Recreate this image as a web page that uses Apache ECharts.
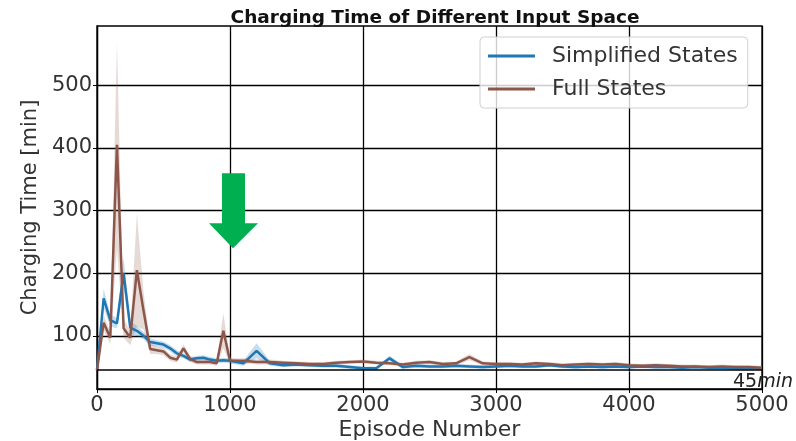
<!DOCTYPE html>
<html>
<head>
<meta charset="utf-8">
<script src="https://cdn.jsdelivr.net/npm/echarts@6/dist/echarts.min.js"></script>
<style>
  html, body { margin: 0; padding: 0; background: #fff; }
  #main { width: 796px; height: 441px; }
</style>
</head>
<body>
<div id="main"></div>
<script>
// episode grid shared by both curves
var episodes = [0, 50, 100, 150, 200, 250, 300, 350, 400, 450, 500, 550, 600, 650, 700, 750, 800, 850, 900, 950, 1000,
  1100, 1200, 1300, 1400, 1500, 1600, 1700, 1800, 1900, 2000, 2100, 2200, 2300, 2400, 2500, 2600, 2700, 2800, 2900, 3000,
  3100, 3200, 3300, 3400, 3500, 3600, 3700, 3800, 3900, 4000, 4100, 4200, 4300, 4400, 4500, 4600, 4700, 4800, 4900, 5000];

var simplified = [45, 160, 125, 120, 200, 113, 108, 100, 90, 88, 86, 80, 72, 68, 62, 64, 65, 62, 60, 61, 60,
  56, 76, 56, 53, 54, 53, 52, 52, 50, 48, 48, 64, 50, 52, 51, 51, 52, 51, 50, 51,
  52, 51, 51, 53, 51, 50, 51, 50, 51, 50, 51, 50, 50, 49, 50, 49, 49, 48, 48, 48];
var simplifiedSpread = [3, 15, 10, 8, 25, 10, 8, 6, 6, 5, 5, 5, 5, 4, 4, 4, 4, 4, 4, 4, 4,
  4, 12, 4, 3, 3, 3, 3, 3, 3, 3, 3, 4, 3, 3, 3, 3, 3, 3, 3, 3,
  3, 3, 3, 3, 3, 3, 3, 3, 3, 3, 3, 3, 3, 3, 3, 3, 3, 3, 3, 3];

var full = [45, 121, 97, 405, 112, 97, 205, 140, 79, 77, 75, 65, 62, 80, 63, 58, 58, 58, 56, 108, 60,
  60, 58, 58, 57, 56, 55, 55, 57, 58, 59, 57, 56, 54, 57, 58, 55, 56, 66, 56, 55,
  55, 54, 56, 55, 53, 54, 55, 54, 55, 53, 52, 53, 52, 51, 51, 50, 51, 50, 50, 49];
var fullSpread = [3, 12, 10, 165, 15, 12, 90, 30, 8, 6, 6, 5, 5, 6, 5, 4, 4, 4, 4, 28, 4,
  4, 4, 4, 3, 3, 3, 3, 3, 3, 3, 3, 3, 3, 3, 3, 3, 3, 5, 3, 3,
  3, 3, 3, 3, 3, 3, 3, 3, 3, 3, 3, 3, 3, 3, 3, 3, 3, 3, 3, 3];

var yTicks = [100, 200, 300, 400, 500];
var targetMinutes = 45;
// white dashed pieces lying on the 45 min line
var dashPieces = [[340, 650], [1020, 1300], [1680, 1980], [2420, 2740], [3460, 3700], [3900, 4250], [4450, 4800]];

var chartDom = document.getElementById('main');
var myChart = echarts.init(chartDom);
var font = 'DejaVu Sans';

function pairs(ys) {
  return episodes.map(function (e, i) { return [e, ys[i]]; });
}

function band(ys, spread, fill) {
  return {
    type: 'custom',
    silent: true,
    z: 1,
    data: pairs(ys),
    renderItem: function (params, api) {
      if (params.dataIndex !== 0) return null;
      var pts = [];
      for (var i = 0; i < episodes.length; i++) pts.push(api.coord([episodes[i], ys[i] + spread[i]]));
      for (var j = episodes.length - 1; j >= 0; j--) pts.push(api.coord([episodes[j], ys[j] - spread[j]]));
      return { type: 'polygon', shape: { points: pts }, style: { fill: fill } };
    }
  };
}

var option = {
  animation: false,
  backgroundColor: '#fff',
  title: {
    text: 'Charging Time of Different Input Space',
    left: 430,
    textAlign: 'center',
    top: 4,
    textStyle: { fontFamily: font, fontWeight: 'bold', fontSize: 18.5, color: '#111' }
  },
  legend: {
    orient: 'vertical',
    left: 480,
    top: 37,
    padding: [7, 10, 7, 8],
    icon: 'rect',
    itemWidth: 47,
    itemHeight: 3,
    itemGap: 9,
    backgroundColor: 'rgba(255,255,255,0.8)',
    borderColor: '#d0d0d0',
    borderWidth: 1,
    borderRadius: 4,
    data: ['Simplified States', 'Full States'],
    textStyle: { fontFamily: font, fontSize: 22, lineHeight: 24, color: '#333', padding: [0, 0, 0, 12] }
  },
  grid: {
    left: 97, right: 34, top: 26, bottom: 52,
    outerBoundsMode: 'none',
    show: true, borderColor: '#000', borderWidth: 1.3
  },
  xAxis: {
    type: 'value',
    min: 0, max: 5000, interval: 1000,
    name: 'Episode Number',
    nameLocation: 'middle',
    nameGap: 30,
    nameMoveOverlap: false,
    nameTextStyle: { fontFamily: font, fontSize: 22, color: '#333' },
    axisLine: { lineStyle: { color: '#000', width: 1.3 } },
    axisTick: { show: true, length: 4, lineStyle: { color: '#000' } },
    axisLabel: { fontFamily: font, fontSize: 21, color: '#333', margin: 6, formatter: function (v) { return String(v); } },
    splitLine: { show: true, lineStyle: { color: '#000', width: 1.3 } }
  },
  yAxis: {
    type: 'value',
    min: 15, max: 595,
    name: 'Charging Time [min]',
    nameLocation: 'middle',
    nameGap: 53,
    nameTextStyle: { fontFamily: font, fontSize: 21, color: '#333' },
    axisLine: { show: true, lineStyle: { color: '#000', width: 1.3 } },
    axisTick: { show: true, length: 4, customValues: yTicks, lineStyle: { color: '#000' } },
    axisLabel: { fontFamily: font, fontSize: 21, color: '#333', margin: 5, customValues: yTicks },
    splitLine: { show: true, lineStyle: { color: '#000', width: 1.3 } }
  },
  series: [
    band(simplified, simplifiedSpread, 'rgba(31,119,180,0.25)'),
    band(full, fullSpread, 'rgba(140,86,75,0.22)'),
    {
      name: 'Simplified States',
      type: 'line',
      data: pairs(simplified),
      symbol: 'none',
      z: 3,
      color: '#1f77b4',
      lineStyle: { width: 2.5, color: '#1f77b4' },
      markLine: {
        silent: true,
        symbol: 'none',
        label: { show: false },
        data: [{ yAxis: targetMinutes, lineStyle: { color: '#000', width: 1.5, type: 'solid' } }]
      }
    },
    {
      name: 'Full States',
      type: 'line',
      data: pairs(full),
      symbol: 'none',
      z: 4,
      color: '#8c564b',
      lineStyle: { width: 2.5, color: '#8c564b' },
      markLine: {
        silent: true,
        symbol: 'none',
        label: { show: false },
        lineStyle: { color: '#fff', width: 1.2, type: [4, 3] },
        data: dashPieces.map(function (p) {
          return [{ coord: [p[0], targetMinutes - 2] }, { coord: [p[1], targetMinutes - 2] }];
        })
      }
    }
  ]
};

option && myChart.setOption(option);

// annotations: green arrow at episode 1000 and the 45 min label
var tip = myChart.convertToPixel({ gridIndex: 0 }, [1000, 240]);
var lineEnd = myChart.convertToPixel({ gridIndex: 0 }, [5000, targetMinutes]);
var ax = tip[0] + 3, ay = tip[1];
myChart.setOption({
  graphic: [
    {
      type: 'polygon',
      z: 100,
      shape: {
        points: [
          [ax - 11, ay - 75], [ax + 12, ay - 75], [ax + 12, ay - 25], [ax + 25, ay - 25],
          [ax, ay], [ax - 24, ay - 25], [ax - 11, ay - 25]
        ]
      },
      style: { fill: '#00b050' }
    },
    {
      type: 'text',
      z: 100,
      left: lineEnd[0] - 29,
      top: lineEnd[1] + 2,
      style: {
        text: '{a|45}{b|min}',
        rich: {
          a: { fontFamily: font, fontSize: 19, fill: '#222' },
          b: { fontFamily: font, fontSize: 19, fontStyle: 'italic', fill: '#222' }
        }
      }
    }
  ]
});
</script>
</body>
</html>
